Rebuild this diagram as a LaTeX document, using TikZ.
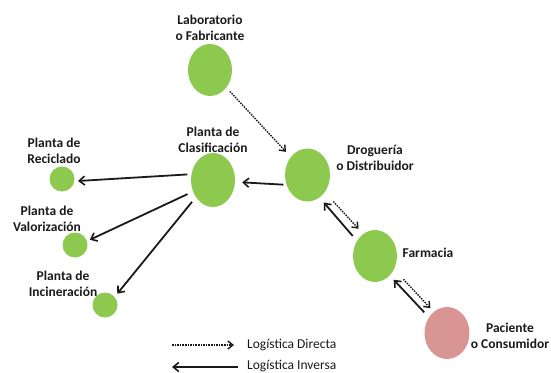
\documentclass[tikz,border=0pt]{standalone}
\usepackage{fontspec}
\setmainfont{Carlito}
\usetikzlibrary{shapes.geometric,arrows.meta}
\definecolor{nodegreen}{HTML}{8DC94F}
\definecolor{nodepink}{HTML}{D99594}
\definecolor{txt}{HTML}{1A1A1A}
\tikzset{
  bignode/.style={ellipse,fill=nodegreen,draw=none,inner sep=0pt,minimum width=44pt,minimum height=52pt},
  smallnode/.style={circle,fill=nodegreen,draw=none,inner sep=0pt,minimum size=25pt},
  lbl/.style={align=center,text=txt,font=\fontsize{13.5}{16}\selectfont\bfseries,inner sep=0pt},
  legtxt/.style={anchor=west,text=txt,font=\fontsize{13.5}{15}\selectfont,inner sep=0pt},
  inversa/.style={draw=txt,line width=1.8pt,-{Straight Barb[length=5.5pt,width=9pt,line width=1.6pt]}},
  directa/.style={draw=txt,line width=1.4pt,dash pattern=on 1.5pt off 1.1pt,-{Straight Barb[length=5pt,width=8pt,line width=1.4pt]}}
}
\begin{document}
\begin{tikzpicture}[x=1pt,y=-1pt]
\useasboundingbox (0,0) rectangle (551,372);
% nodes
\node[bignode] (lab) at (210,70) {};
\node[bignode,minimum width=45pt,minimum height=53pt] (drog) at (307.5,175) {};
\node[bignode,minimum height=54pt] (clas) at (213,180) {};
\node[bignode] (farm) at (375,256) {};
\node[bignode,fill=nodepink,minimum width=45pt] (pac) at (447,333) {};
\node[smallnode] (rec) at (62,179) {};
\node[smallnode] (val) at (75,245) {};
\node[smallnode] (inc) at (105,305) {};
% labels
\node[lbl] (tlab) at (210,28) {Laboratorio\\o Fabricante};
\node[lbl] (tclas) at (213,139.5) {Planta de\\Clasificación};
\node[lbl] (tdrog) at (375,157.5) {Droguería\\o Distribuidor};
\node[lbl] (trec) at (54,150.5) {Planta de\\Reciclado};
\node[lbl] (tval) at (47,218.5) {Planta de\\Valorización};
\node[lbl] (tinc) at (63,284) {Planta de\\Incineración};
\node[lbl] (tfarm) at (428,253) {Farmacia};
\node[lbl] (tpac) at (510,335.5) {Paciente\\o Consumidor};
% connectors
\draw[directa,shorten <=5pt,shorten >=7pt] (lab) -- (drog);
\draw[inversa,shorten <=3pt,shorten >=7pt] (drog.205) -- (clas.-5);
\draw[inversa,shorten <=4pt,shorten >=3.5pt] (clas.165) -- (rec.-10);
\draw[inversa,shorten <=6pt,shorten >=3pt] (clas.210) -- (val.18);
\draw[inversa,shorten <=6pt,shorten >=4pt] (clas.225) -- (inc.40);
\draw[inversa,shorten <=6.4pt,shorten >=6.4pt] (farm.140) -- (drog.-62);
\draw[directa,shorten <=12.5pt,shorten >=6.9pt] (drog.-45) -- (farm.118);
\draw[inversa,shorten <=6.7pt,shorten >=5.7pt] (pac.139) -- (farm.-53);
\draw[directa,shorten <=13.5pt,shorten >=4.9pt] (farm.-35) -- (pac.122.6);
% legend
\node[legtxt] (tdir) at (247,345) {Logística Directa};
\node[legtxt] (tinv) at (247,366) {Logística Inversa};
\coordinate (d1) at (172,345);
\coordinate (d2) at (234,345);
\coordinate (i1) at (238,367);
\coordinate (i2) at (172,367);
\draw[directa] (d1) -- (d2);
\draw[inversa] (i1) -- (i2);
\end{tikzpicture}
\end{document}
